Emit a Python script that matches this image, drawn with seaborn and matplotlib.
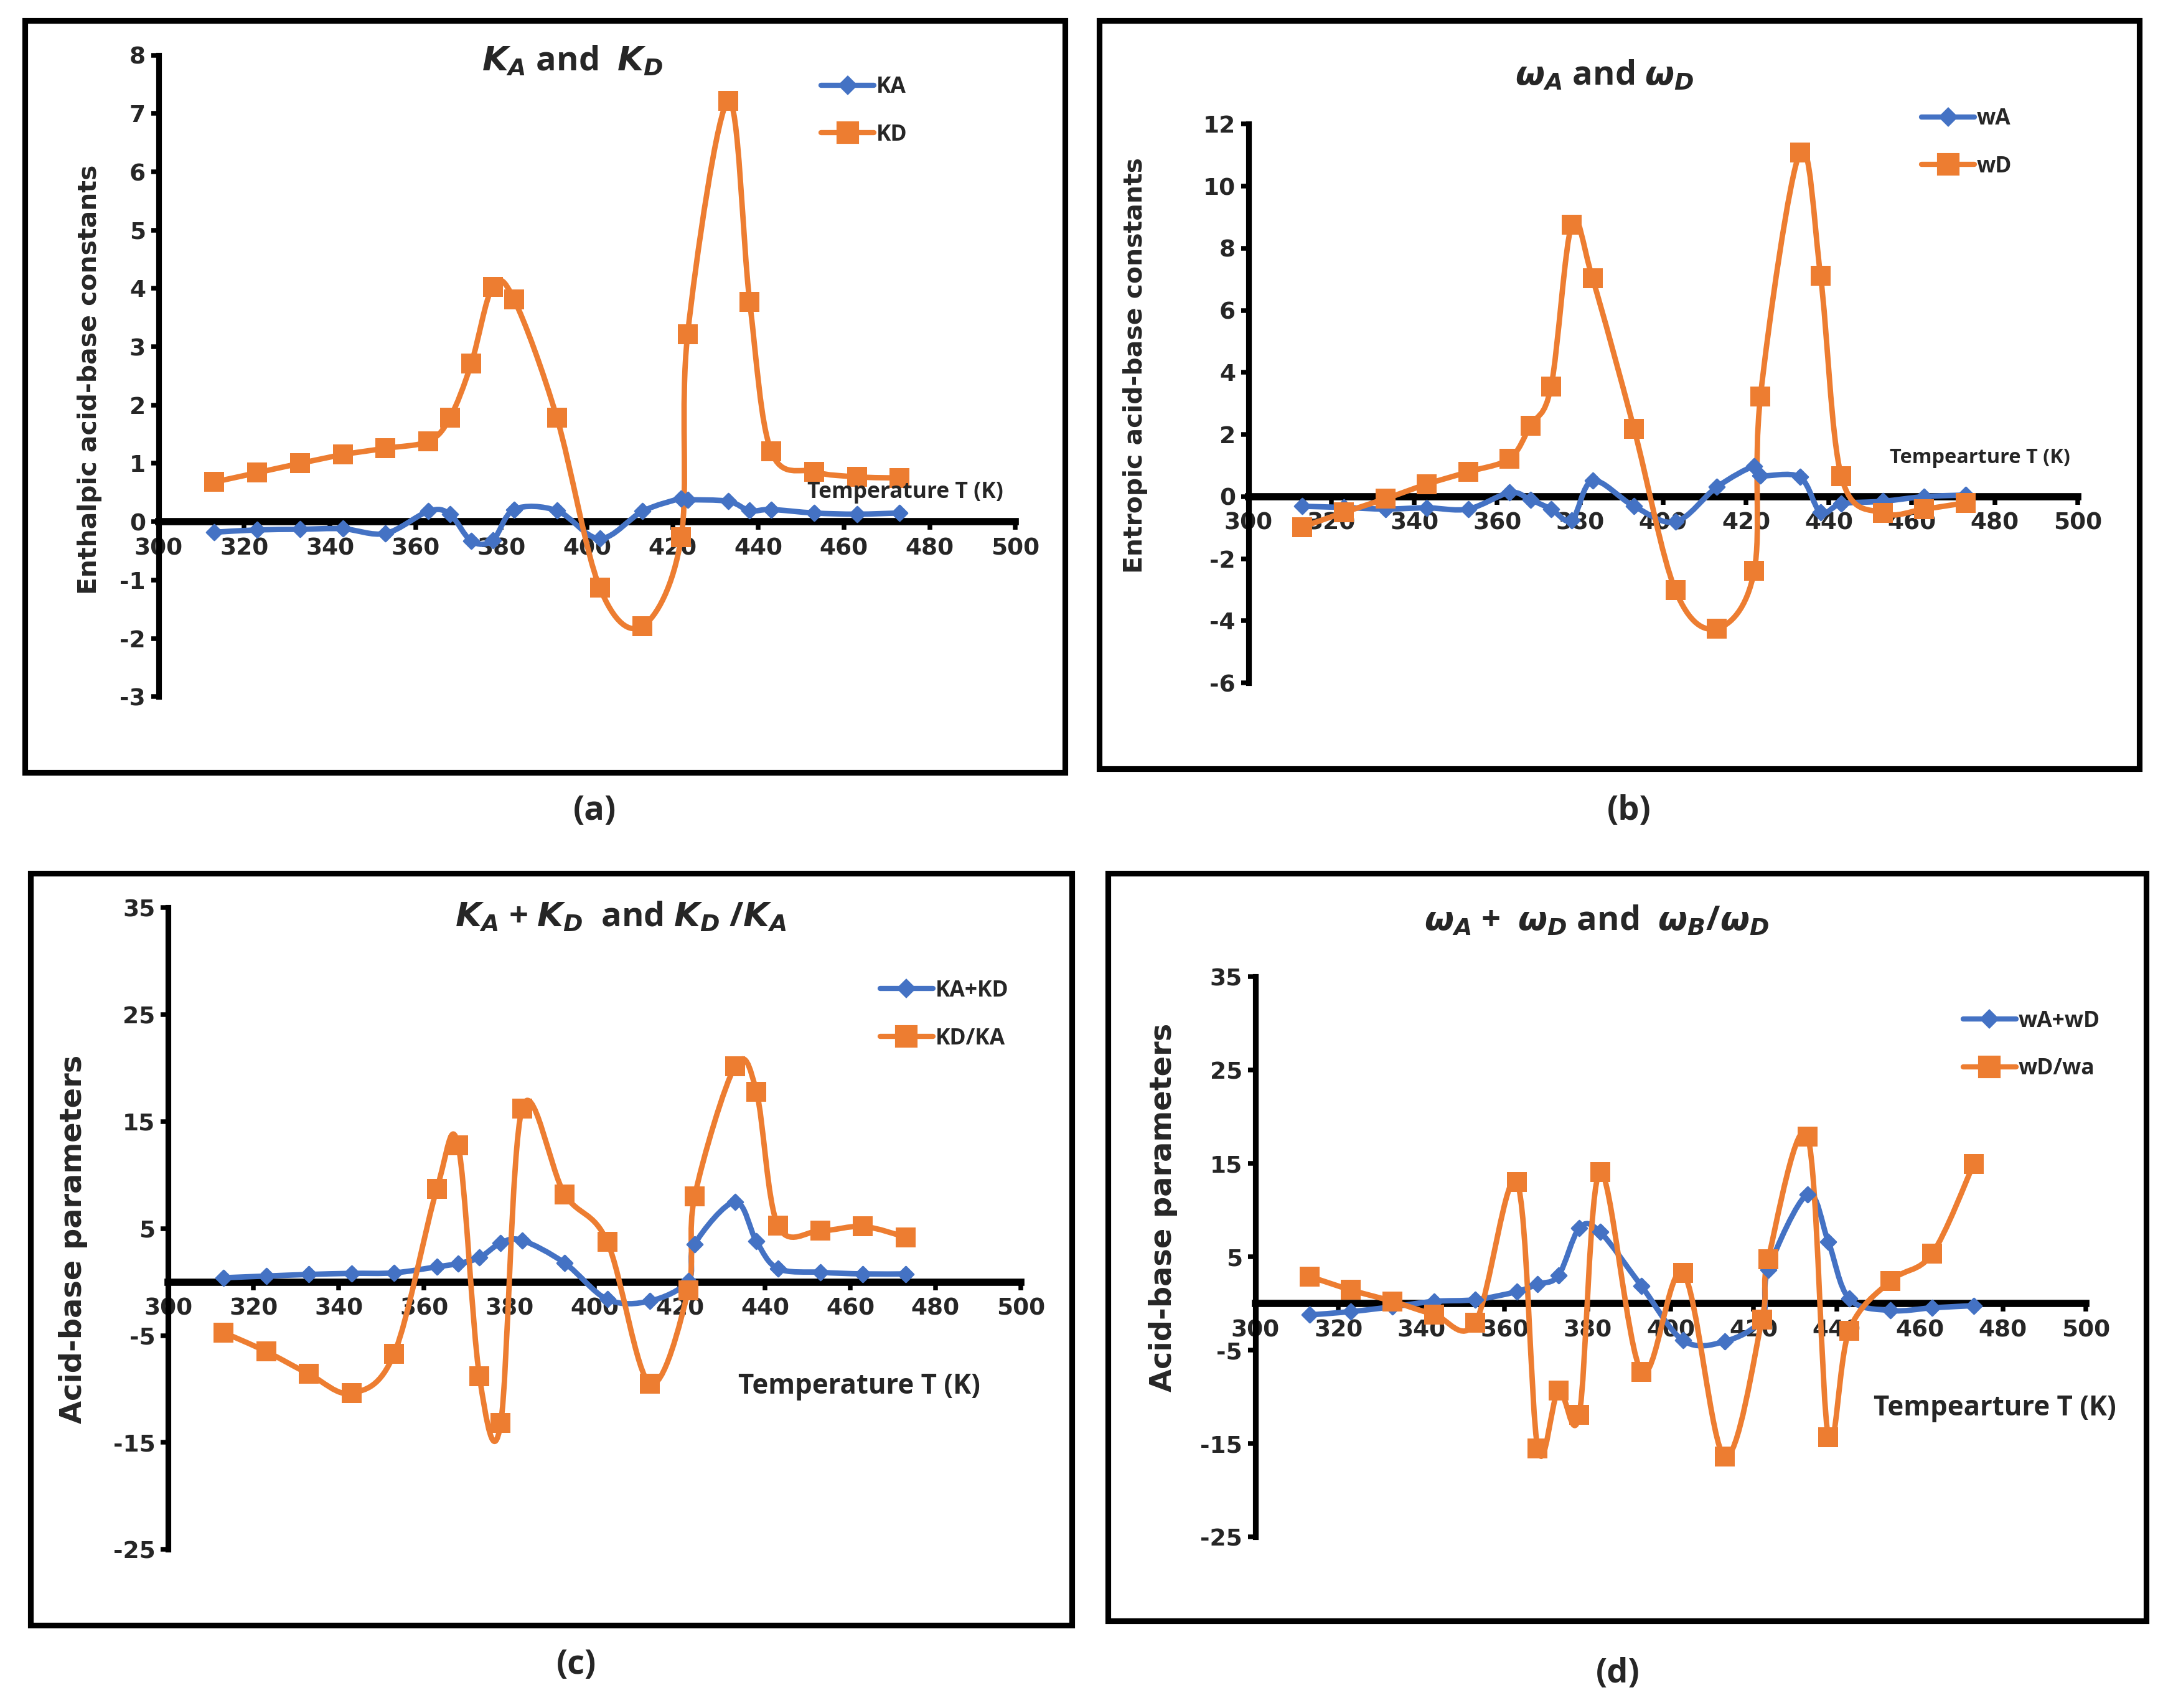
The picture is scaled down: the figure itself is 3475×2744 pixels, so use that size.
import numpy as np
import pandas as pd
import matplotlib
matplotlib.use("Agg")
import matplotlib.pyplot as plt
import seaborn as sns
from matplotlib.path import Path
from matplotlib.patches import PathPatch, Rectangle
from matplotlib.lines import Line2D

# ==========================================================
# DADOS
# ==========================================================

temp = [313, 323, 333, 343, 353, 363, 368, 373, 378, 383, 393,
        403, 413, 422, 423.5, 433, 438, 443, 453, 463, 473]

ka = [-0.18, -0.14, -0.13, -0.12, -0.20, 0.18, 0.13, -0.33, -0.32, 0.21, 0.19,
      -0.29, 0.18, 0.40, 0.38, 0.35, 0.19, 0.21, 0.15, 0.13, 0.15]
kd = [0.68, 0.84, 1.00, 1.15, 1.26, 1.38, 1.78, 2.71, 4.03, 3.81, 1.78,
      -1.13, -1.79, -0.27, 3.21, 7.22, 3.77, 1.21, 0.86, 0.77, 0.75]

wa = [-0.31, -0.35, -0.40, -0.36, -0.40, 0.13, -0.10, -0.40, -0.76, 0.51, -0.31,
      -0.81, 0.31, 0.98, 0.68, 0.63, -0.51, -0.23, -0.15, 0.00, 0.05]
wd = [-0.98, -0.51, -0.07, 0.40, 0.80, 1.23, 2.29, 3.55, 8.77, 7.03, 2.19,
      -3.02, -4.25, -2.39, 3.22, 11.08, 7.11, 0.66, -0.53, -0.40, -0.20]

ka_plus_kd = [0.40, 0.56, 0.71, 0.81, 0.86, 1.42, 1.73, 2.28, 3.65, 3.90, 1.78,
              -1.62, -1.78, 0.10, 3.55, 7.50, 3.80, 1.27, 0.91, 0.76, 0.76]
kd_over_ka = [-4.72, -6.5, -8.6, -10.4, -6.7, 8.7, 12.8, -8.8, -13.2, 16.2, 8.2,
              3.76, -9.5, -0.76, 8.0, 20.2, 17.8, 5.3, 4.8, 5.2, 4.2]

wa_plus_wd = [-1.22, -0.87, -0.35, 0.23, 0.41, 1.28, 2.09, 3.0, 8.07, 7.67, 1.86,
              -3.95, -4.07, -1.62, 3.6, 11.7, 6.6, 0.52, -0.75, -0.46, -0.23]
wd_over_wa = [2.9, 1.45, 0.23, -1.16, -2.03, 13.0, -15.5, -9.3, -11.9, 14.1, -7.3,
              3.3, -16.4, -1.74, 4.75, 17.9, -14.3, -2.9, 2.43, 5.33, 14.95]

# ==========================================================
# ESTILO
# ==========================================================

sns.set_theme(style="white")
plt.rcParams["font.family"] = ["Open Sans", "DejaVu Sans"]
plt.rcParams["font.weight"] = "bold"
plt.rcParams["axes.unicode_minus"] = False
plt.rcParams["mathtext.fontset"] = "custom"
plt.rcParams["mathtext.it"] = "DejaVu Sans:italic:bold"
plt.rcParams["mathtext.rm"] = "DejaVu Sans:bold"
plt.rcParams["mathtext.bf"] = "DejaVu Sans:bold"

AZUL = "#4472C4"
LARANJA = "#ED7D31"


def curva_suave(ax, x, y, cor):
    # linha suavizada estilo Excel (bezier catmull-rom)
    pts = np.column_stack([x, y]).astype(float)
    n = len(pts)
    verts = [pts[0]]
    codes = [Path.MOVETO]
    for i in range(n - 1):
        p0 = pts[max(i - 1, 0)]
        p1 = pts[i]
        p2 = pts[i + 1]
        p3 = pts[min(i + 2, n - 1)]
        verts += [p1 + (p2 - p0) / 6, p2 - (p3 - p1) / 6, p2]
        codes += [Path.CURVE4] * 3
    ax.add_patch(PathPatch(Path(verts, codes), fill=False, edgecolor=cor,
                           lw=2.1, capstyle="round", joinstyle="round", zorder=2))


def painel(fig, pos, s1, s2, nomes, ylim, yticks, titulo, tit_pos,
           ylabel, ylab_pos, ylab_size, xlabel, xlab_pos, xlab_size,
           leg_pos, letra, letra_pos, moldura):

    fig.add_artist(Rectangle((moldura[0], moldura[1]), moldura[2], moldura[3],
                             transform=fig.transFigure, fill=False,
                             edgecolor="black", lw=2.2))

    ax = fig.add_axes(pos)
    df = pd.DataFrame({"T": temp, "s1": s1, "s2": s2})

    curva_suave(ax, df["T"], df["s1"], AZUL)
    curva_suave(ax, df["T"], df["s2"], LARANJA)

    sns.scatterplot(data=df, x="T", y="s1", marker="D", s=17, color=AZUL,
                    edgecolor=AZUL, linewidth=0.8, ax=ax, zorder=3)
    sns.scatterplot(data=df, x="T", y="s2", marker="s", s=58, color=LARANJA,
                    edgecolor=LARANJA, linewidth=0, ax=ax, zorder=4)

    ax.set_xlim(300, 500)
    ax.set_ylim(*ylim)
    ax.set_xticks(range(300, 501, 20))
    ax.set_yticks(yticks)
    ax.set_xlabel("")
    ax.set_ylabel("")
    ax.patch.set_alpha(0)

    for lado in ["top", "right"]:
        ax.spines[lado].set_visible(False)
    ax.spines["left"].set_linewidth(2.2)
    ax.spines["left"].set_color("black")
    ax.spines["bottom"].set_position(("data", 0))
    ax.spines["bottom"].set_linewidth(2.8)
    ax.spines["bottom"].set_color("black")
    ax.spines["bottom"].set_zorder(1)

    ax.tick_params(axis="both", direction="out", length=3, width=1.8,
                   color="black", labelsize=9, pad=2)
    ax.tick_params(axis="x", pad=3)
    ax.tick_params(left=True, bottom=True)
    for lab in ax.get_xticklabels() + ax.get_yticklabels():
        lab.set_fontweight("bold")
        lab.set_family("DejaVu Sans")

    handles = [
        Line2D([], [], color=AZUL, lw=2, marker="D", ms=4.5),
        Line2D([], [], color=LARANJA, lw=2, marker="s", ms=7.5),
    ]
    fig.legend(handles, nomes, loc="center left", bbox_to_anchor=leg_pos,
               bbox_transform=fig.transFigure, frameon=False,
               prop={"weight": "bold", "size": 8.5}, handlelength=2.4,
               handletextpad=0.1, labelspacing=1.15, borderaxespad=0,
               borderpad=0)

    fig.text(tit_pos[0], tit_pos[1], titulo, ha="center", va="center",
             fontsize=13, fontweight="bold")
    fig.text(ylab_pos[0], ylab_pos[1], ylabel, rotation=90, ha="center",
             va="center", fontsize=ylab_size, fontweight="bold",
             family="DejaVu Sans")
    fig.text(xlab_pos[0], xlab_pos[1], xlabel, ha="left", va="center",
             fontsize=xlab_size, fontweight="bold")
    fig.text(letra_pos[0], letra_pos[1], letra, ha="center", va="center",
             fontsize=13, fontweight="bold")
    return ax


fig = plt.figure(figsize=(3475 / 300, 2744 / 300), dpi=300)

# (a)
painel(fig, [0.0733, 0.5921, 0.3961, 0.3756], ka, kd, ["KA", "KD"],
       (-3, 8), range(-3, 9),
       r"$K_A$ and  $K_D$", (0.2647, 0.9637),
       "Enthalpic acid-base constants", (0.0415, 0.7779), 9.8,
       "Temperature T (K)", (0.3731, 0.7116), 8.5,
       (0.3797, 0.9350), "(a)", (0.2749, 0.525),
       (0.0115, 0.5477, 0.4808, 0.4402))

# (b)
painel(fig, [0.5772, 0.6002, 0.3833, 0.3271], wa, wd, ["wA", "wD"],
       (-6, 12), range(-6, 13, 2),
       r"$\omega_A$ and $\omega_D$", (0.7417, 0.9556),
       "Entropic acid-base constants", (0.5249, 0.786), 9.8,
       "Tempearture T (K)", (0.8737, 0.7318), 7.8,
       (0.8884, 0.9164), "(b)", (0.7532, 0.525),
       (0.5083, 0.5501, 0.4809, 0.4378))

# (c)
painel(fig, [0.0778, 0.0929, 0.3941, 0.3756], ka_plus_kd, kd_over_ka,
       ["KA+KD", "KD/KA"],
       (-25, 35), range(-25, 36, 10),
       r"$K_A$ + $K_D$  and $K_D$ /$K_A$", (0.287, 0.4628),
       "Acid-base parameters", (0.0338, 0.2746), 11.5,
       "Temperature T (K)", (0.3412, 0.1882), 10.5,
       (0.4069, 0.4059), "(c)", (0.2666, 0.025),
       (0.0140, 0.0485, 0.4815, 0.4402))

# (d)
painel(fig, [0.5804, 0.1002, 0.3839, 0.3279], wa_plus_wd, wd_over_wa,
       ["wA+wD", "wD/wa"],
       (-25, 35), range(-25, 36, 10),
       r"$\omega_A$ +  $\omega_D$ and  $\omega_B$/$\omega_D$", (0.738, 0.4604),
       "Acid-base parameters", (0.5376, 0.2932), 11.5,
       "Tempearture T (K)", (0.8661, 0.1753), 10.5,
       (0.9076, 0.3881), "(d)", (0.748, 0.0202),
       (0.5121, 0.0509, 0.4802, 0.4378))

fig.savefig("out.png", dpi=300, facecolor="white")
